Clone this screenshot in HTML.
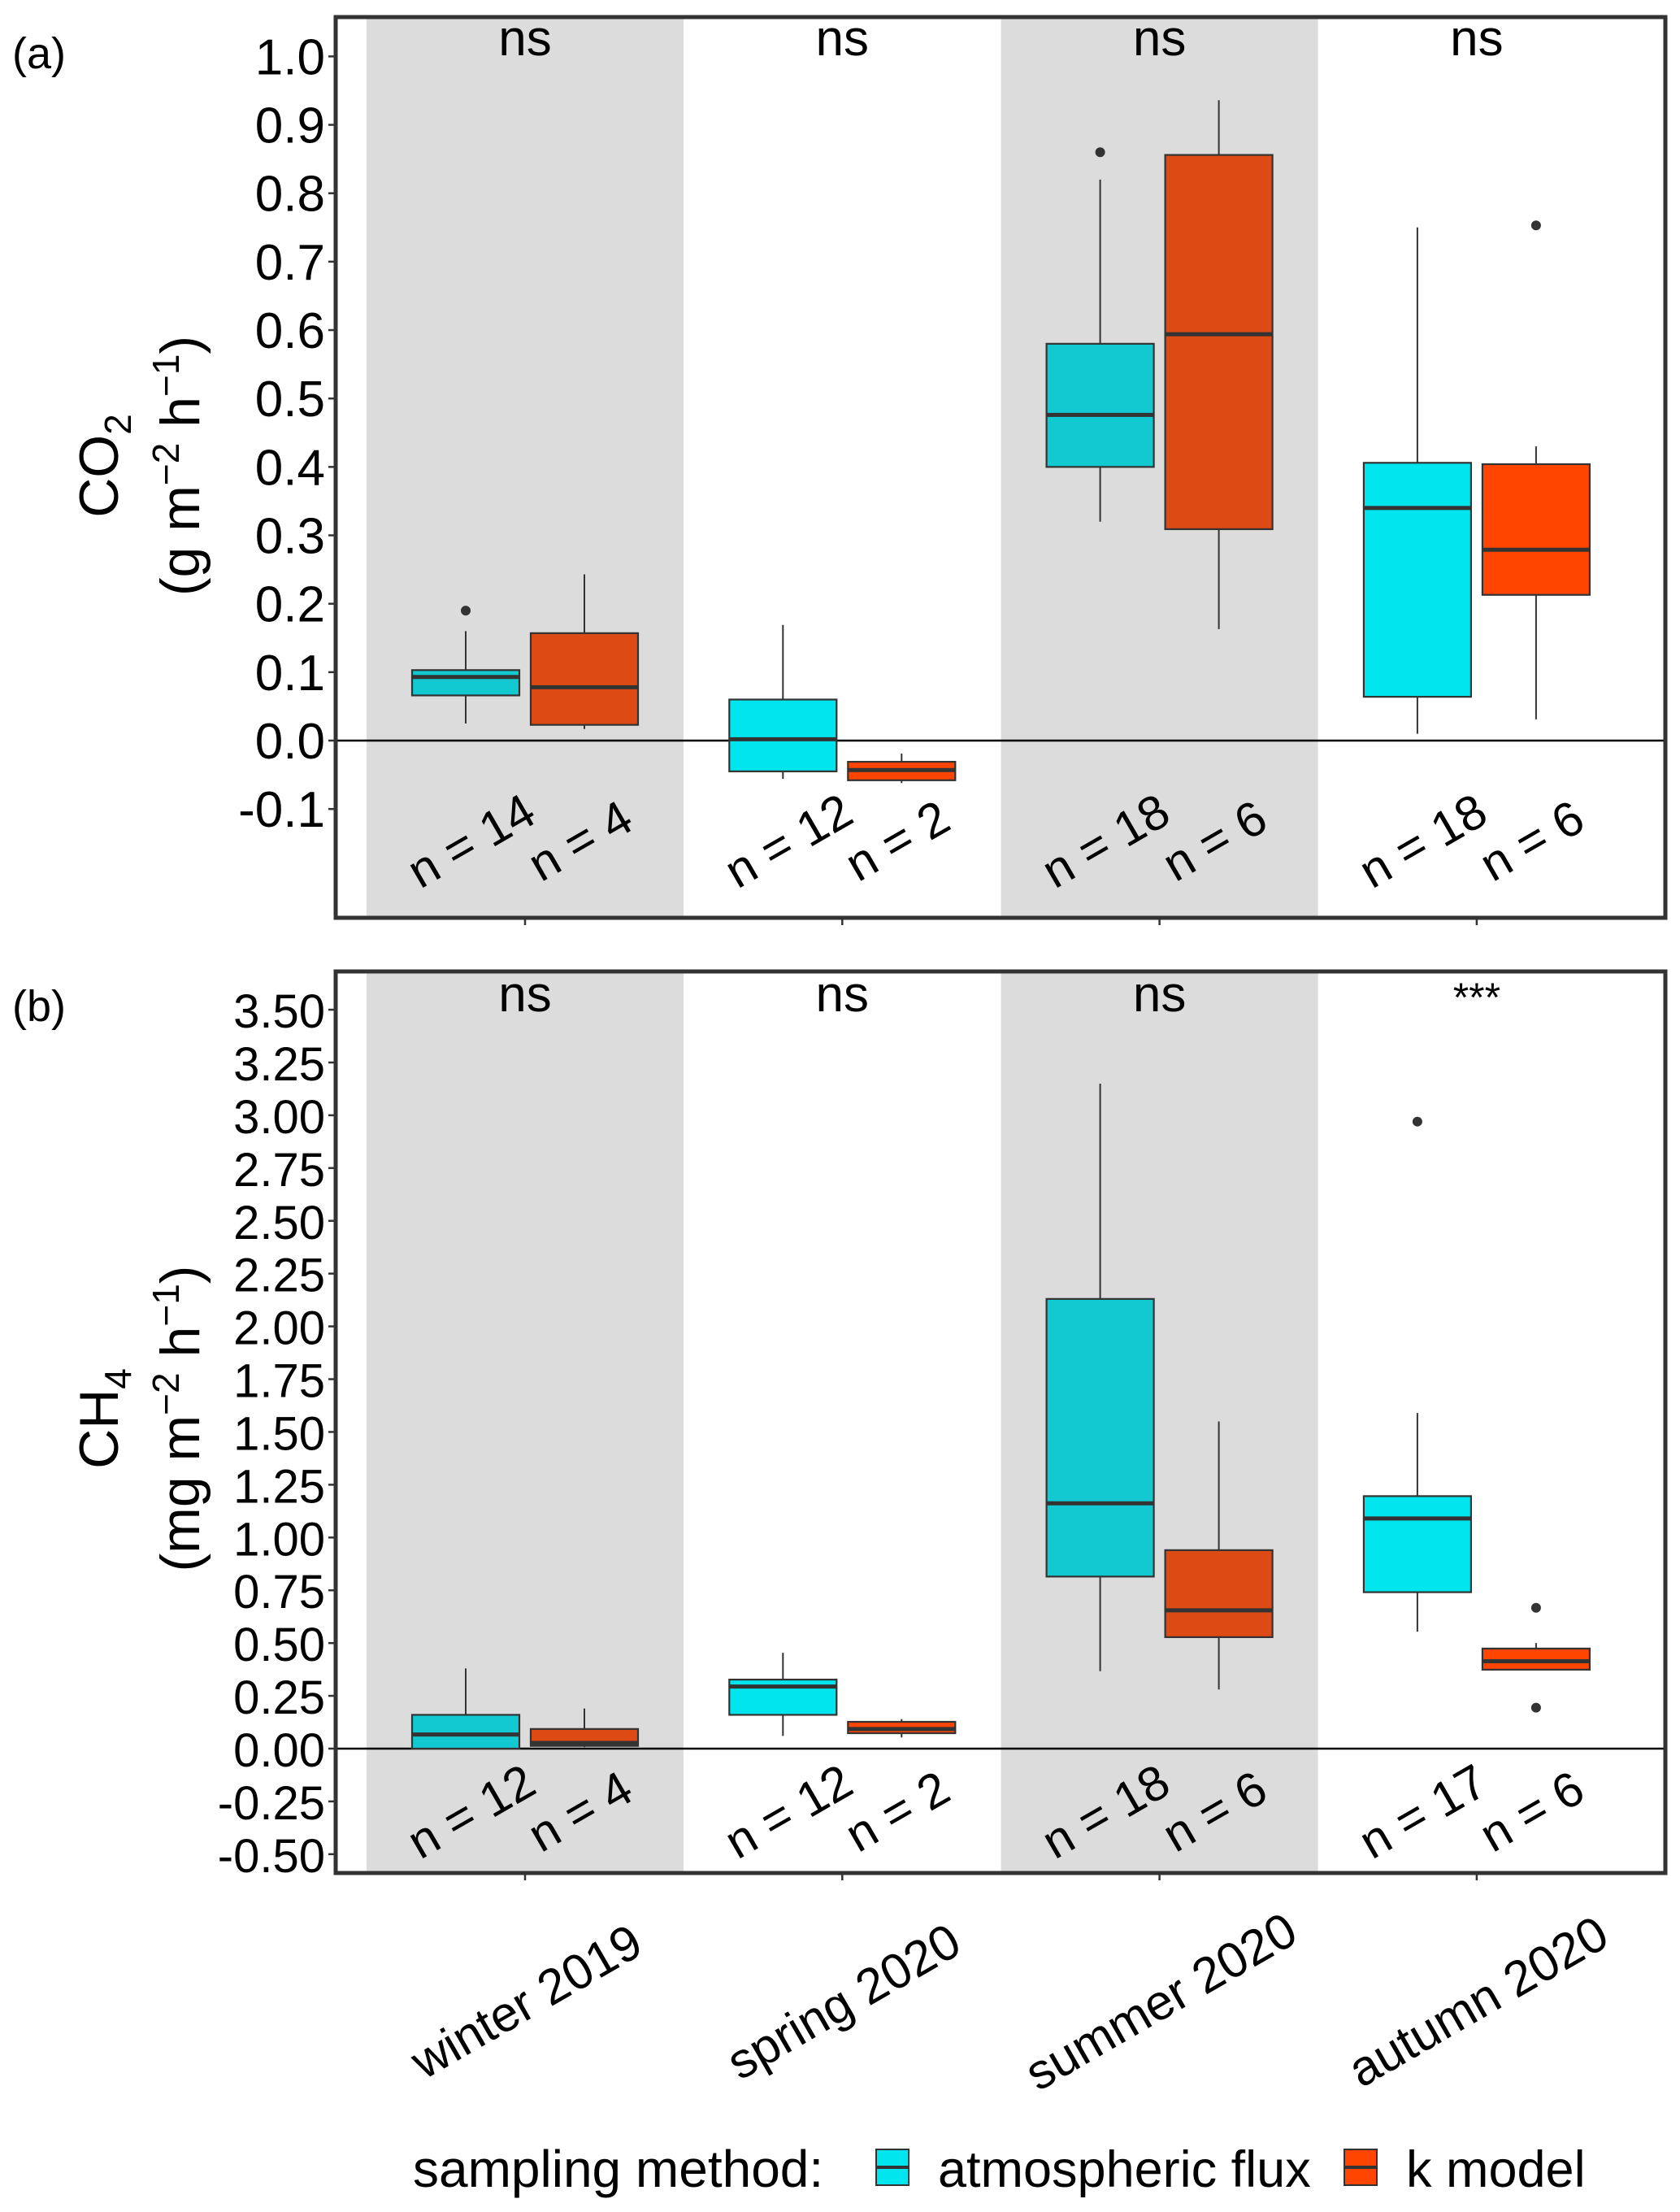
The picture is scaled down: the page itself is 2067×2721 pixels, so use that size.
<!DOCTYPE html>
<html><head><meta charset="utf-8"><style>
html,body{margin:0;padding:0;background:#fff;}
svg{display:block;font-family:"Liberation Sans",Arial,sans-serif;}
</style></head><body>
<svg id="chart" width="2067" height="2721" viewBox="0 0 2067 2721" xmlns="http://www.w3.org/2000/svg">
<g id="pa"></g>
<g id="pb"></g>
<g id="legend">
<text x="508" y="2690" font-size="64" fill="#000">sampling method:</text>
<g>
<rect x="1078" y="2644" width="40" height="44" fill="#00E5EE" stroke="#333" stroke-width="2"/>
<line x1="1078" y1="2666" x2="1118" y2="2666" stroke="#333" stroke-width="4"/>
<text x="1154" y="2690" font-size="63">atmospheric flux</text></g>
<g>
<rect x="1654" y="2644" width="40" height="44" fill="#FF4500" stroke="#333" stroke-width="2"/>
<line x1="1654" y1="2666" x2="1694" y2="2666" stroke="#333" stroke-width="4"/>
<text x="1730" y="2690" font-size="63">k model</text></g>
</g>
</svg>
<script>
const seasons=["winter 2019","spring 2020","summer 2020","autumn 2020"];
// CO2 [low, q1, median, q3, high]
const co2Flux=[[0.025,0.066,0.093,0.103,0.16],[-0.056,-0.045,0.002,0.06,0.169],[0.32,0.40,0.476,0.58,0.82],[0.01,0.064,0.34,0.406,0.75]];
const co2K=[[0.017,0.023,0.078,0.157,0.243],[-0.062,-0.058,-0.043,-0.031,-0.019],[0.163,0.309,0.594,0.856,0.936],[0.031,0.213,0.279,0.404,0.43]];
const co2FluxOut=[[0.19],[],[0.86],[]];
const co2KOut=[[],[],[],[0.753]];
const co2N=[[14,4],[12,2],[18,6],[18,6]];
const co2Sig=["ns","ns","ns","ns"];
const co2Ticks=[-0.1,0,0.1,0.2,0.3,0.4,0.5,0.6,0.7,0.8,0.9,1.0];
// CH4
const ch4Flux=[[0,0,0.067,0.16,0.38],[0.06,0.16,0.294,0.327,0.454],[0.367,0.815,1.162,2.13,3.15],[0.554,0.741,1.09,1.196,1.59]];
const ch4K=[[0.007,0.013,0.027,0.093,0.19],[0.053,0.073,0.093,0.127,0.14],[0.28,0.528,0.655,0.94,1.55],[0.374,0.374,0.414,0.474,0.5]];
const ch4FluxOut=[[],[],[],[2.97]];
const ch4KOut=[[],[],[],[0.667,0.194]];
const ch4N=[[12,4],[12,2],[18,6],[17,6]];
const ch4Sig=["ns","ns","ns","***"];
const ch4Ticks=[-0.5,-0.25,0,0.25,0.5,0.75,1,1.25,1.5,1.75,2,2.25,2.5,2.75,3,3.25,3.5];

const NS="http://www.w3.org/2000/svg";
function mk(parent,tag,attrs,text){const e=document.createElementNS(NS,tag);for(const k in attrs)e.setAttribute(k,attrs[k]);if(text!==undefined)e.textContent=text;parent.appendChild(e);return e;}
const xC=i=>646+i*390.3;

function panel(g,cfg){
  const y=v=>cfg.y0-v*cfg.k;
  const L=413,R=2049;
  mk(g,'rect',{x:L,y:cfg.top,width:R-L,height:cfg.bot-cfg.top,fill:'#fff'});
  seasons.forEach((s,i)=>{if(i%2===0){const r=mk(g,'rect',{x:xC(i)-195,y:cfg.top,width:390,height:cfg.bot-cfg.top,fill:'#dcdcdc'});
    
    }});
  mk(g,'line',{x1:L,x2:R,y1:y(0),y2:y(0),stroke:'#000','stroke-width':2.5});
  const drawBox=(d,cx,fill,outs,name)=>{
    const bg=mk(g,'g',{});
    
    
    mk(bg,'line',{x1:cx,x2:cx,y1:y(d[0]),y2:y(d[4]),stroke:'#333','stroke-width':2});
    mk(bg,'rect',{x:cx-66,y:y(d[3]),width:132,height:Math.max(1,y(d[1])-y(d[3])),fill:fill,stroke:'#333','stroke-width':2.2});
    mk(bg,'line',{x1:cx-66,x2:cx+66,y1:y(d[2]),y2:y(d[2]),stroke:'#333','stroke-width':5});
    outs.forEach(o=>mk(bg,'circle',{cx:cx,cy:y(o),r:6,fill:'#333'}));
  };
  seasons.forEach((s,i)=>{
    const grey=i%2===0;
    drawBox(cfg.flux[i],xC(i)-73,grey?'#12c9d1':'#00E5EE',cfg.fluxOut[i],'box-flux-'+i);
    drawBox(cfg.kk[i],xC(i)+73,grey?'#de4a14':'#FF4500',cfg.kOut[i],'box-kmodel-'+i);
    const t=mk(g,'text',{x:xC(i),y:cfg.sigY,'font-size':cfg.sig[i]==='***'?50:62,'text-anchor':'middle'},cfg.sig[i]);
    
    
    [[-56,cfg.n[i][0]],[78,cfg.n[i][1]]].forEach(([dx,n])=>{
      const tx=xC(i)+dx, ty=cfg.nY;
      const nt=mk(g,'text',{x:tx,y:ty,'font-size':60,'text-anchor':'middle',transform:`rotate(-30 ${tx} ${ty})`},'n = '+n);
      
      
    });
    mk(g,'line',{x1:xC(i),x2:xC(i),y1:cfg.bot,y2:cfg.bot+9,stroke:'#333','stroke-width':2.5});
  });
  cfg.ticks.forEach(v=>{
    mk(g,'line',{x1:L-9,x2:L,y1:y(v),y2:y(v),stroke:'#333','stroke-width':2.5});
    const t=mk(g,'text',{x:L-13,y:y(v)+22,'font-size':cfg.tfs,'text-anchor':'end'},cfg.fmt(v));
    
    
  });
  mk(g,'rect',{x:L,y:cfg.top,width:R-L,height:cfg.bot-cfg.top,fill:'none',stroke:'#333','stroke-width':5});
}
panel(document.getElementById('pa'),{y0:911,k:841.6,top:21,bot:1129,flux:co2Flux,kk:co2K,fluxOut:co2FluxOut,kOut:co2KOut,n:co2N,sig:co2Sig,sigY:68,nY:1052,ticks:co2Ticks,tfs:62,fmt:v=>v.toFixed(1)});
panel(document.getElementById('pb'),{y0:2151,k:259.7,top:1195,bot:2304,flux:ch4Flux,kk:ch4K,fluxOut:ch4FluxOut,kOut:ch4KOut,n:ch4N,sig:ch4Sig,sigY:1244,nY:2246,ticks:ch4Ticks,tfs:58,fmt:v=>v.toFixed(2)});

const svg=document.getElementById('chart');
seasons.forEach((s,i)=>{
  const tx=xC(i)+12, ty=2480;
  const t=mk(svg,'text',{x:tx,y:ty,'font-size':61,'text-anchor':'middle',transform:`rotate(-30 ${tx} ${ty})`},s);
  
  
});
const pl=mk(svg,'text',{x:15,y:84,'font-size':54},'(a)');


const pl2=mk(svg,'text',{x:15,y:1256,'font-size':54},'(b)');



const ya=mk(svg,'text',{transform:'translate(145 573) rotate(-90)','font-size':68,'text-anchor':'middle'});


ya.innerHTML='CO<tspan font-size="46" dy="16">2</tspan>';
const ya2=mk(svg,'text',{transform:'translate(245 573) rotate(-90)','font-size':68,'text-anchor':'middle'});


ya2.innerHTML='(g m<tspan font-size="46" dy="-25">−2</tspan><tspan dy="25"> h</tspan><tspan font-size="46" dy="-25">−1</tspan><tspan dy="25">)</tspan>';

const yb=mk(svg,'text',{transform:'translate(145 1745) rotate(-90)','font-size':68,'text-anchor':'middle'});


yb.innerHTML='CH<tspan font-size="46" dy="16">4</tspan>';
const yb2=mk(svg,'text',{transform:'translate(245 1745) rotate(-90)','font-size':68,'text-anchor':'middle'});


yb2.innerHTML='(mg m<tspan font-size="46" dy="-25">−2</tspan><tspan dy="25"> h</tspan><tspan font-size="46" dy="-25">−1</tspan><tspan dy="25">)</tspan>';
</script>
</body></html>
